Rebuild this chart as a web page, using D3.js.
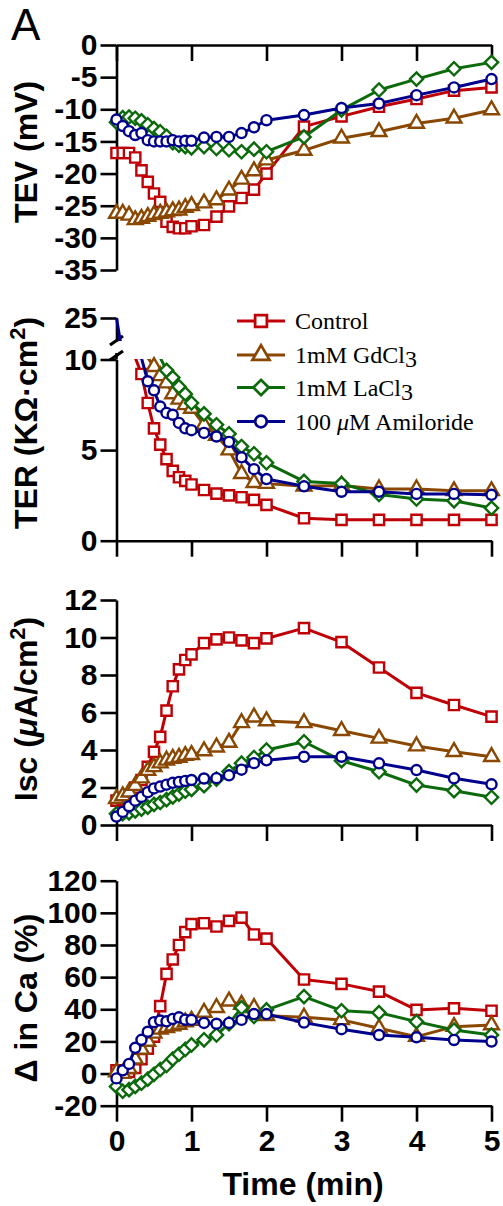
<!DOCTYPE html>
<html>
<head>
<meta charset="utf-8">
<script src="https://cdn.jsdelivr.net/npm/d3@7"></script>
<style>
  body { margin: 0; background: #fff; }
  svg { display: block; }
</style>
</head>
<body>
<svg id="chart" width="503" height="1206"></svg>
<script>
// sampling times (min): every 5 s to 1 min, every 10 s to 2 min, then every 30 s
const TIME = [0, 0.083, 0.167, 0.25, 0.333, 0.417, 0.5, 0.583, 0.667, 0.75, 0.833, 0.917, 1,
  1.167, 1.333, 1.5, 1.667, 1.833, 2, 2.5, 3, 3.5, 4, 4.5, 5];

const SERIES = ["Control", "1mM GdCl3", "1mM LaCl3", "100 \u03bcM Amiloride"];
const COLORS = ["#bf0006", "#8a4700", "#0c6a0c", "#00008c"];

// TEV (mV)
const tevControl = [-16.8, -16.8, -16.8, -17.5, -19.5, -21.3, -23.1, -24.4, -27.5, -28.3, -28.5, -28.5, -28.2,
  -28.0, -26.7, -25.1, -23.8, -22.5, -20.0, -12.7, -11.1, -9.6, -8.4, -7.1, -6.6];
const tevGd = [-26.2, -26.2, -26.5, -27.2, -27.0, -26.7, -26.4, -26.2, -26.0, -25.8, -25.7, -25.3, -25.0,
  -24.6, -24.1, -22.6, -20.9, -19.6, -17.9, -16.4, -14.5, -13.5, -12.2, -11.4, -10.1];
const tevLa = [-12.0, -11.3, -11.2, -11.4, -11.8, -12.4, -13.0, -13.5, -14.2, -15.2, -15.6, -15.8, -16.0,
  -15.8, -16.1, -16.3, -16.6, -16.2, -16.6, -14.3, -10.1, -7.0, -5.3, -3.7, -2.7];
const tevAmil = [-11.6, -12.6, -13.4, -14.0, -13.7, -14.8, -15.0, -15.0, -15.0, -14.8, -15.0, -14.9, -14.9,
  -14.4, -14.3, -14.3, -13.7, -12.8, -11.7, -10.9, -9.8, -9.1, -7.8, -6.6, -5.3];

// TER (KOhm.cm2) - values above 10 fall in the axis break
const terControl = [14, 13, 12, 10.5, 9.2, 7.6, 6.2, 5.3, 4.5, 3.85, 3.5, 3.3, 3.1,
  2.8, 2.6, 2.5, 2.4, 2.25, 1.98, 1.24, 1.15, 1.15, 1.15, 1.15, 1.15];
const terGd = [14, 13.5, 13, 12, 11.5, 10.5, 9.6, 9.1, 8.7, 8.1, 7.8, 7.5, 7.3,
  6.4, 5.8, 5.0, 3.7, 3.2, 3.15, 3.0, 3.05, 2.85, 2.85, 2.75, 2.75];
const terLa = [14, 13.5, 13, 12.5, 12, 11.5, 11, 10.5, 9.4, 9.0, 8.5, 8.1, 7.6,
  7.0, 6.4, 5.9, 5.2, 4.8, 4.3, 3.27, 3.15, 2.55, 2.3, 2.2, 1.8];
const terAmil = [25, 11, 10.8, 10.6, 10.4, 8.8, 8.3, 7.4, 7.05, 6.95, 6.5, 6.2, 6.1,
  5.95, 5.75, 5.45, 4.6, 3.95, 3.4, 3.0, 2.7, 2.7, 2.58, 2.58, 2.53];

// Isc (uA/cm2)
const iscControl = [1.3, 1.4, 1.6, 2.0, 2.4, 3.1, 3.9, 4.7, 6.1, 7.4, 8.3, 8.8, 9.1,
  9.7, 9.9, 10.0, 9.85, 9.7, 9.95, 10.5, 9.75, 8.4, 7.05, 6.4, 5.78];
const iscGd = [1.4, 1.55, 1.75, 2.1, 2.5, 2.9, 3.1, 3.3, 3.45, 3.55, 3.6, 3.7, 3.75,
  3.95, 4.15, 4.4, 5.45, 5.75, 5.55, 5.45, 5.03, 4.62, 4.21, 3.91, 3.64];
const iscLa = [0.6, 0.6, 0.65, 0.75, 0.85, 0.95, 1.1, 1.2, 1.35, 1.5, 1.65, 1.8, 1.9,
  2.1, 2.45, 2.85, 3.3, 3.6, 4.0, 4.44, 3.43, 2.84, 2.13, 1.83, 1.48];
const iscAmil = [0.45, 0.7, 1.0, 1.3, 1.5, 1.75, 1.95, 2.05, 2.15, 2.25, 2.3, 2.35, 2.4,
  2.48, 2.5, 2.65, 2.95, 3.3, 3.45, 3.64, 3.64, 3.29, 2.93, 2.49, 2.17];

// delta in Ca (%)
const caControl = [2.0, 1.5, 1.0, 3.5, 9.0, 15.5, 23.0, 42.0, 62.0, 71.0, 80.0, 88.0, 93.0,
  93.5, 91.5, 95.0, 97.0, 86.5, 84.0, 58.5, 55.8, 51.0, 39.6, 40.6, 39.1];
const caGd = [1.0, 0.0, 3.0, 9.0, 15.0, 20.0, 25.0, 27.5, 28.5, 29.5, 30.5, 32.0, 33.0,
  38.0, 41.0, 45.0, 43.0, 41.0, 36.0, 35.0, 33.4, 28.2, 23.0, 29.2, 30.2];
const caLa = [-8.0, -11.0, -10.0, -8.0, -6.0, -3.5, -0.5, 2.5, 5.0, 9.0, 12.0, 15.0, 17.8,
  21.0, 24.0, 31.0, 41.0, 35.5, 39.6, 47.9, 39.1, 37.9, 32.3, 27.1, 24.0];
const caAmil = [-3.0, 2.0, 6.0, 16.0, 21.0, 26.0, 32.0, 33.0, 32.5, 34.0, 35.0, 33.5, 33.4,
  31.5, 31.0, 31.5, 33.4, 37.0, 37.0, 31.7, 27.6, 24.0, 22.6, 20.9, 19.9];

const TIME_TICKS = [0, 1, 2, 3, 4, 5];
const TEV_TICKS = [0, -5, -10, -15, -20, -25, -30, -35];
const TER_TICKS = [0, 5, 10];
const TER_TICKS_HIGH = [25];
const ISC_TICKS = [0, 2, 4, 6, 8, 10, 12];
const CA_TICKS = [-20, 0, 20, 40, 60, 80, 100, 120];

const SANS = "Liberation Sans, Arial, Helvetica, sans-serif";
const SERIF = "Liberation Serif, Times New Roman, serif";

const svg = d3.select("#chart");
const x = d3.scaleLinear().domain([0, 5]).range([116.5, 491.5]);

// open markers: square, triangle, diamond, circle
const symbols = [
  d3.symbol(d3.symbolSquare, 105),
  d3.symbol(d3.symbolTriangle, 95),
  d3.symbol(d3.symbolSquare, 88),
  d3.symbol(d3.symbolCircle, 80)
];

function drawMarker(sel, i, scale) {
  sel.append("path")
    .attr("d", symbols[i]())
    .attr("transform", (i === 2 ? "rotate(45) " : "") + "scale(" + (scale || 1) + ")")
    .attr("fill", "#fff")
    .attr("stroke", COLORS[i])
    .attr("stroke-width", 2.4);
}

function drawSeries(g, y, values, i, clipLine, markerOk) {
  const line = d3.line()
    .x((d, k) => x(TIME[k]))
    .y(d => y(d));
  const p = g.append("path")
    .attr("d", line(values))
    .attr("fill", "none")
    .attr("stroke", COLORS[i])
    .attr("stroke-width", 3)
    .attr("stroke-linejoin", "round");
  if (clipLine) p.attr("clip-path", clipLine);

  const pts = values.map((v, k) => ({ t: TIME[k], v: v }))
    .filter(d => !markerOk || markerOk(d.v));
  g.selectAll(null)
    .data(pts)
    .enter()
    .append("g")
    .attr("transform", d => `translate(${x(d.t)},${y(d.v)})`)
    .each(function () { drawMarker(d3.select(this), i); });
}

function styleAxis(g) {
  g.attr("font-family", SANS).attr("font-size", 30).attr("font-weight", "bold");
  g.selectAll("path, line").attr("stroke", "#000").attr("stroke-width", 2.6);
  g.selectAll("text").attr("fill", "#000");
}

function yTitle(cy, build) {
  const t = svg.append("text")
    .attr("transform", `translate(37,${cy}) rotate(-90)`)
    .attr("text-anchor", "middle")
    .attr("font-family", SANS)
    .attr("font-size", 32)
    .attr("font-weight", "bold")
    .attr("fill", "#000");
  build(t);
}

function xAxisNoLabels(yPos) {
  svg.append("g")
    .attr("transform", `translate(0,${yPos})`)
    .call(d3.axisBottom(x).tickValues(TIME_TICKS).tickSize(16).tickSizeOuter(0).tickFormat(""))
    .call(styleAxis);
}

// panel label
svg.append("text")
  .attr("x", 11).attr("y", 40)
  .attr("font-family", SANS).attr("font-size", 44)
  .attr("fill", "#000")
  .text("A");

// ---------- Panel 1: TEV ----------
const y1 = d3.scaleLinear().domain([-35, 0]).range([270, 45]);
svg.append("g")
  .attr("transform", "translate(116.5,0)")
  .call(d3.axisLeft(y1).tickValues(TEV_TICKS).tickSize(16).tickPadding(3).tickSizeOuter(0).tickFormat(d => String(d)))
  .call(styleAxis);
xAxisNoLabels(45);
const g1 = svg.append("g");
[tevControl, tevGd, tevLa, tevAmil].forEach((vals, i) => drawSeries(g1, y1, vals, i));
yTitle(152, t => t.text("TEV (mV)"));

// ---------- Panel 2: TER with broken axis ----------
const yLo = d3.scaleLinear().domain([0, 10]).range([540.7, 359.5]);
const yHi = d3.scaleLinear().domain([15, 25]).range([341, 318]);
const y2 = d3.scaleLinear().domain([0, 10, 15, 25]).range([540.7, 359.5, 341, 318]);

const defs = svg.append("defs");
const clip = defs.append("clipPath").attr("id", "terClip");
clip.append("rect").attr("x", 100).attr("y", 310).attr("width", 400).attr("height", 31);
clip.append("rect").attr("x", 100).attr("y", 359).attr("width", 400).attr("height", 200);

svg.append("g")
  .attr("transform", "translate(116.5,0)")
  .call(d3.axisLeft(yLo).tickValues(TER_TICKS).tickSize(16).tickPadding(3).tickSizeOuter(0))
  .call(styleAxis);
svg.append("g")
  .attr("transform", "translate(116.5,0)")
  .call(d3.axisLeft(yHi).tickValues(TER_TICKS_HIGH).tickSize(16).tickPadding(3).tickSizeOuter(0))
  .call(styleAxis);
svg.append("line")
  .attr("x1", 116.5).attr("x2", 116.5).attr("y1", 359.5).attr("y2", 353)
  .attr("stroke", "#000").attr("stroke-width", 2.6);
// break marks
[[345, 336], [360, 351]].forEach(([ya, yb]) => {
  svg.append("line")
    .attr("x1", 110).attr("y1", ya).attr("x2", 123).attr("y2", yb)
    .attr("stroke", "#000").attr("stroke-width", 3.2);
});
xAxisNoLabels(540.7);
const g2 = svg.append("g");
[terControl, terGd, terLa, terAmil].forEach((vals, i) =>
  drawSeries(g2, y2, vals, i, "url(#terClip)", v => v <= 10));
yTitle(423, t => {
  t.append("tspan").text("TER (K\u03a9\u00b7cm");
  t.append("tspan").attr("dy", -12).attr("font-size", 22).text("2");
  t.append("tspan").attr("dy", 12).text(")");
});

// legend
const legend = svg.append("g");
const legendY = [321, 355, 387.5, 421.5];
SERIES.forEach((name, i) => {
  const row = legend.append("g").attr("transform", `translate(0,${legendY[i]})`);
  row.append("line")
    .attr("x1", 237).attr("x2", 285)
    .attr("stroke", COLORS[i]).attr("stroke-width", 3);
  const m = row.append("g").attr("transform", "translate(261,0)");
  drawMarker(m, i, 1.15);
  const txt = row.append("text")
    .attr("x", 295).attr("y", 8)
    .attr("font-family", SERIF).attr("font-size", 24).attr("fill", "#000");
  if (i === 1 || i === 2) {
    txt.append("tspan").text(name.slice(0, -1));
    txt.append("tspan").attr("dy", 4).text(name.slice(-1));
  } else if (i === 3) {
    txt.append("tspan").text("100 ");
    txt.append("tspan").attr("font-style", "italic").text("\u03bc");
    txt.append("tspan").text("M Amiloride");
  } else {
    txt.text(name);
  }
});

// ---------- Panel 3: Isc ----------
const y3 = d3.scaleLinear().domain([0, 12]).range([825, 600]);
svg.append("g")
  .attr("transform", "translate(116.5,0)")
  .call(d3.axisLeft(y3).tickValues(ISC_TICKS).tickSize(16).tickPadding(3).tickSizeOuter(0))
  .call(styleAxis);
xAxisNoLabels(825);
const g3 = svg.append("g");
[iscControl, iscGd, iscLa, iscAmil].forEach((vals, i) => drawSeries(g3, y3, vals, i));
yTitle(709, t => {
  t.append("tspan").text("Isc (");
  t.append("tspan").attr("font-style", "italic").text("\u03bc");
  t.append("tspan").text("A/cm");
  t.append("tspan").attr("dy", -12).attr("font-size", 22).text("2");
  t.append("tspan").attr("dy", 12).text(")");
});

// ---------- Panel 4: delta Ca ----------
const y4 = d3.scaleLinear().domain([-20, 120]).range([1105.7, 880.7]);
svg.append("g")
  .attr("transform", "translate(116.5,0)")
  .call(d3.axisLeft(y4).tickValues(CA_TICKS).tickSize(16).tickPadding(3).tickSizeOuter(0).tickFormat(d => String(d)))
  .call(styleAxis);
svg.append("g")
  .attr("transform", "translate(0,1105.7)")
  .call(d3.axisBottom(x).tickValues(TIME_TICKS).tickSize(16).tickPadding(8).tickSizeOuter(0).tickFormat(d => String(d)))
  .call(styleAxis);
const g4 = svg.append("g");
[caControl, caGd, caLa, caAmil].forEach((vals, i) => drawSeries(g4, y4, vals, i));
yTitle(998, t => t.text("\u0394 in Ca (%)"));

svg.append("text")
  .attr("x", 303).attr("y", 1195)
  .attr("text-anchor", "middle")
  .attr("font-family", SANS).attr("font-size", 32).attr("font-weight", "bold")
  .attr("fill", "#000")
  .text("Time (min)");
</script>
</body>
</html>
